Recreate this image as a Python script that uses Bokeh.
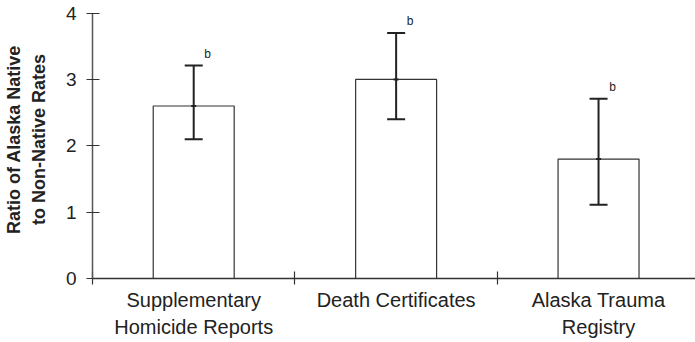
from bokeh.plotting import figure
from bokeh.models import (ColumnDataSource, FixedTicker, LinearAxis, Range1d,
                          Whisker, TeeHead)
from bokeh.core.properties import value
from bokeh.embed import file_html
from bokeh.resources import INLINE

# ---- data ----
categories = ["Supplementary\nHomicide Reports", "Death Certificates", "Alaska Trauma\nRegistry"]
ratios = [2.6, 3.0, 1.8]
upper = [3.21, 3.70, 2.71]
lower = [2.10, 2.40, 1.11]
marks = ["b", "b", "b"]
y_ticks = [0, 1, 2, 3, 4]

xs = [i + 0.5 for i in range(len(categories))]
src = ColumnDataSource(dict(x=xs, top=ratios, upper=upper, lower=lower, mark=marks))

FONT = "Liberation Sans"
INK = "#222222"

p = figure(width=695, height=342, output_backend="svg", toolbar_location=None,
           x_range=Range1d(0, 2.979), y_range=Range1d(0, 4.19),
           x_axis_type=None, y_axis_type=None,
           min_border_left=91, min_border_right=0, min_border_top=0, min_border_bottom=64)
p.grid.visible = False
p.outline_line_color = None
p.background_fill_color = "white"
p.border_fill_color = "white"

# bars
p.vbar(x="x", top="top", width=0.4, bottom=0, source=src,
       fill_color="white", line_color="#333333", line_width=1.2)

# error bars
w = Whisker(base="x", upper="upper", lower="lower", source=src,
            line_color=INK, line_width=2, level="overlay",
            upper_head=TeeHead(size=18, line_color=INK, line_width=2),
            lower_head=TeeHead(size=18, line_color=INK, line_width=2))
p.add_layout(w)
p.scatter(x="x", y="top", source=src, marker="dash", size=5, line_color=INK, line_width=2)

# significance letters
p.text(x="x", y="upper", text="mark", source=src, x_offset=14, y_offset=-12,
       text_font=value(FONT), text_font_size="12px", text_color=INK,
       text_align="center", text_baseline="middle")

# y axis
yax = LinearAxis(ticker=FixedTicker(ticks=y_ticks), bounds=(0, 4))
yax.axis_label = "Ratio of Alaska Native\nto Non-Native Rates"
yax.axis_label_text_font = FONT
yax.axis_label_text_font_style = "bold"
yax.axis_label_text_font_size = "18px"
yax.axis_label_text_color = INK
yax.axis_label_text_line_height = 1.25
yax.axis_label_standoff = 14
yax.major_label_text_font = FONT
yax.major_label_text_font_size = "19px"
yax.major_label_text_color = INK
yax.major_label_standoff = 10
yax.major_tick_in = 7
yax.major_tick_out = 6
yax.minor_tick_in = 0
yax.minor_tick_out = 0
yax.axis_line_color = "#555555"
yax.axis_line_width = 1.5
yax.major_tick_line_color = "#333333"
yax.major_tick_line_width = 1.2
p.add_layout(yax, "left")

# x axis: labels at category centres, separator ticks as minor ticks
xax = LinearAxis(ticker=FixedTicker(ticks=xs, minor_ticks=[0, 1, 2]))
xax.major_label_overrides = {x: c for x, c in zip(xs, categories)}
xax.major_label_text_font = FONT
xax.major_label_text_font_size = "20px"
xax.major_label_text_color = INK
xax.major_label_text_line_height = 1.25
xax.major_label_standoff = 4
xax.major_tick_in = 0
xax.major_tick_out = 0
xax.minor_tick_in = 7
xax.minor_tick_out = 6
xax.minor_tick_line_color = "#333333"
xax.minor_tick_line_width = 1.2
xax.axis_line_color = "#333333"
xax.axis_line_width = 1.5
p.add_layout(xax, "below")

open("out.html", "w").write(file_html(p, INLINE))
